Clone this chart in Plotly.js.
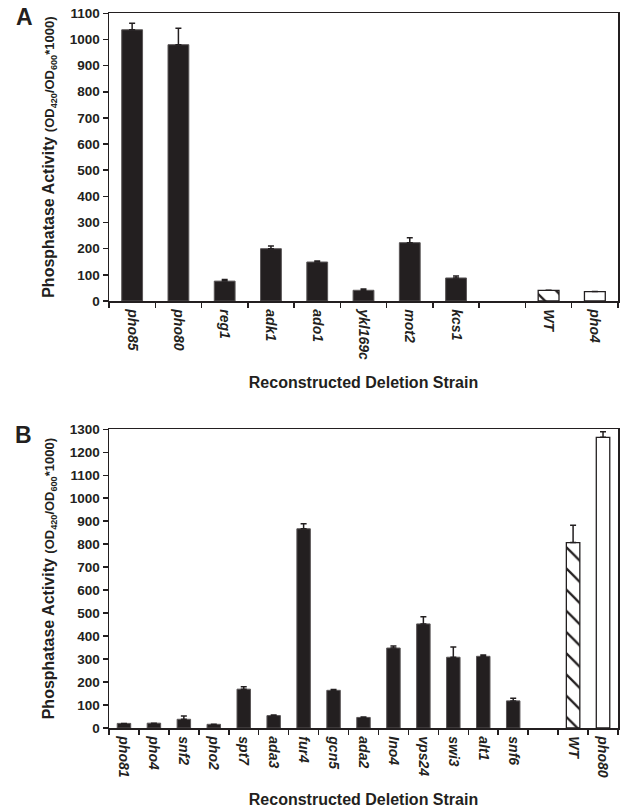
<!DOCTYPE html>
<html>
<head>
<meta charset="utf-8">
<script src="https://cdn.plot.ly/plotly-3.0.1.min.js"></script>
<style>html,body{margin:0;padding:0;background:#fff;}#chart{width:620px;height:809px;}</style>
</head>
<body>
<div id="chart"></div>
<script>
// Panel A data
var strainsA = ["pho85", "pho80", "reg1", "adk1", "ado1", "ykl169c", "mot2", "kcs1", " ", "WT", "pho4"];
var activityA = [1037, 980, 76, 200, 149, 41, 223, 88, null, 41, 36];
var errorA = [25, 63, 6, 10, 4, 5, 19, 8, null, 0, 0];

// Panel B data
var strainsB = ["pho81", "pho4", "snf2", "pho2", "spt7", "ada3", "fur4", "gcn5", "ada2", "Ino4", "vps24", "swi3", "alt1", "snf6", " ", "WT", "pho80"];
var activityB = [20, 21, 38, 16, 169, 54, 867, 164, 46, 348, 453, 308, 312, 118, null, 807, 1265];
var errorB = [0, 0, 14, 0, 10, 3, 22, 4, 2, 9, 31, 44, 6, 11, null, 75, 24];

// Bar style groups: "mutant" (solid dark), "wt" (hatched), "control" (open)
var groupA = ["mutant", "mutant", "mutant", "mutant", "mutant", "mutant", "mutant", "mutant", "gap", "wt", "control"];
var groupB = ["mutant", "mutant", "mutant", "mutant", "mutant", "mutant", "mutant", "mutant", "mutant", "mutant", "mutant", "mutant", "mutant", "mutant", "gap", "wt", "control"];

var ticksA = [0, 100, 200, 300, 400, 500, 600, 700, 800, 900, 1000, 1100];
var ticksB = [0, 100, 200, 300, 400, 500, 600, 700, 800, 900, 1000, 1100, 1200, 1300];

var INK = "#231f20";
var fontFam = "Liberation Sans, Arial, Helvetica, sans-serif";

var styles = {
  mutant: {color: INK, line: {color: "#5a5657", width: 1}},
  wt: {color: "#ffffff", line: {color: INK, width: 1.3},
       pattern: {shape: "\\", fgcolor: INK, bgcolor: "#ffffff", fgopacity: 1, size: 15, solidity: 0.15, fillmode: "replace"}},
  control: {color: "#ffffff", line: {color: INK, width: 1.3}}
};

function tracesFor(names, values, errs, groups, xa, ya) {
  var out = [];
  ["mutant", "wt", "control"].forEach(function (g) {
    var x = [], y = [], e = [], em = [];
    names.forEach(function (n, i) {
      if (groups[i] === g) { x.push(n); y.push(values[i]); e.push(errs[i]); em.push(0); }
    });
    if (!x.length) return;
    out.push({
      type: "bar", x: x, y: y, xaxis: xa, yaxis: ya, name: g,
      marker: styles[g],
      error_y: {type: "data", symmetric: false, array: e, arrayminus: em, color: INK, thickness: 1.5, width: 3},
      showlegend: false, hoverinfo: "x+y"
    });
  });
  return out;
}

var ytitle = "<b>Phosphatase Activity</b> <span style='font-size:13px;font-weight:bold'>(OD<sub>420</sub>/OD<sub>600</sub>*1000)</span>";

function xAxis(anchor, cats) {
  return {
    anchor: anchor, domain: [0, 1], type: "category",
    categoryorder: "array", categoryarray: cats, range: [-0.5, cats.length - 0.5],
    showline: true, mirror: true, linecolor: INK, linewidth: 1.5,
    ticks: "outside", tickson: "boundaries", ticklen: 5, tickwidth: 1.5, tickcolor: INK,
    tickangle: 90, ticklabelstandoff: 4,
    tickfont: {family: fontFam, size: 14, color: INK, style: "italic", weight: "bold"},
    showgrid: false, zeroline: false, fixedrange: true,
    title: {text: "<b>Reconstructed Deletion Strain</b>", font: {family: fontFam, size: 16, color: INK}, standoff: 17}
  };
}

function yAxis(anchor, domain, ticks) {
  return {
    anchor: anchor, domain: domain, range: [0, ticks[ticks.length - 1]],
    tickvals: ticks, ticktext: ticks.map(String),
    showline: true, mirror: true, linecolor: INK, linewidth: 1.5,
    ticks: "outside", ticklen: 5, tickwidth: 1.5, tickcolor: INK,
    tickfont: {family: fontFam, size: 13.5, color: INK, weight: "bold"},
    showgrid: false, zeroline: false, fixedrange: true,
    title: {text: ytitle, font: {family: fontFam, size: 16, color: INK}, standoff: 11}
  };
}

var H = 809, L = 109, W = 620 - L - 2;
var data = tracesFor(strainsA, activityA, errorA, groupA, "x", "y")
  .concat(tracesFor(strainsB, activityB, errorB, groupB, "x2", "y2"));

var layout = {
  width: 620, height: 809,
  margin: {l: L, r: 2, t: 0, b: 0},
  paper_bgcolor: "#ffffff", plot_bgcolor: "#ffffff",
  barmode: "overlay", bargap: 0.55,
  font: {family: fontFam, color: INK},
  xaxis: xAxis("y", strainsA),
  yaxis: yAxis("x", [1 - 301 / H, 1 - 13.3 / H], ticksA),
  xaxis2: xAxis("y2", strainsB),
  yaxis2: yAxis("x2", [1 - 728 / H, 1 - 429.3 / H], ticksB),
  annotations: [
    {text: "<b>A</b>", xref: "paper", yref: "paper", x: (24 - L) / W, y: 1 - 17 / H,
     xanchor: "center", yanchor: "middle", showarrow: false, font: {family: fontFam, size: 23, color: INK}},
    {text: "<b>B</b>", xref: "paper", yref: "paper", x: (23 - L) / W, y: 1 - 435 / H,
     xanchor: "center", yanchor: "middle", showarrow: false, font: {family: fontFam, size: 23, color: INK}}
  ]
};

Plotly.newPlot("chart", data, layout, {displayModeBar: false, staticPlot: true});
</script>
</body>
</html>
